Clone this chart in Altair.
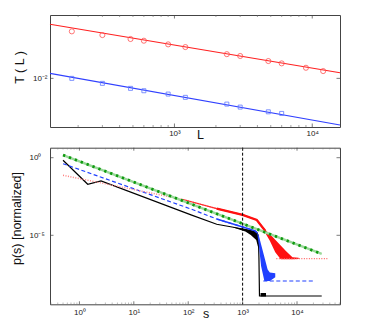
import altair as alt
import pandas as pd

# ---------------- top panel: T(L) ----------------
L_vals = [180, 300, 480, 600, 900, 1200, 2400, 3000, 4800, 6000, 9000, 12000]
T_red = [0.0320, 0.0292, 0.0265, 0.0254, 0.0232, 0.0217, 0.0182, 0.0174, 0.01535, 0.01449, 0.0130, 0.01198]
L_blue = [180, 300, 480, 600, 900, 1200, 2400, 3000, 4800, 6000]
T_blue = [0.0100, 0.00884, 0.00781, 0.00736, 0.00678, 0.00625, 0.00529, 0.00491, 0.00437, 0.00420]
fit_L = [125, 15900]
fit_red = [0.0381, 0.01148]
fit_blue = [0.01132, 0.00315]
top_xticks_major = [1000, 10000]
top_xticks_minor = [200, 300, 400, 500, 600, 700, 800, 900, 2000, 3000, 4000, 5000, 6000, 7000, 8000, 9000]
top_yticks = [0.01]

# ---------------- bottom panel: p(s) (log10 values) ----------------
green_lx = [-0.301, 4.454]
green_ly = [0.17, -6.20]

red_lx = [-0.301, 1.0, 1.886, 2.524, 3.0, 3.26, 3.418]
red_ly = [-1.134, -2.05, -2.68, -3.28, -3.68, -4.01, -4.72]
red_tail_lx = [3.62, 4.577]
red_tail_ly = [-6.50, -6.50]
red_band_lx = [3.40, 3.5, 3.6, 3.7, 3.8, 3.916, 4.03]
red_band_hi = [-4.61, -4.92, -5.29, -5.65, -6.02, -6.42, -6.45]
red_band_lo = [-4.75, -5.35, -6.10, -6.55, -6.55, -6.55, -6.52]

blue_lx = [-0.301, 2.064, 2.524, 3.137, 3.23, 3.27]
blue_ly = [-0.387, -3.325, -3.95, -4.61, -4.72, -4.85]
blue_tail_lx = [3.38, 4.33]
blue_tail_ly = [-7.94, -7.94]
blue_band_lx = [3.27, 3.30, 3.34, 3.40, 3.46, 3.50, 3.60]
blue_band_hi = [-4.80, -5.05, -5.60, -6.40, -7.20, -7.40, -7.45]
blue_band_lo = [-4.92, -5.70, -7.00, -7.94, -7.94, -7.94, -7.70]

black_lx = [-0.301, 0.153, 0.397, 2.064, 2.524, 2.83, 3.14, 3.26, 3.29, 3.30, 3.31, 4.454]
black_ly = [-0.167, -1.71, -1.50, -3.70, -4.29, -4.48, -4.70, -4.80, -5.10, -6.50, -8.91, -8.91]
black_band_lx = [2.83, 2.95, 3.05, 3.15, 3.25, 3.29]
black_band_hi = [-4.46, -4.54, -4.60, -4.68, -4.78, -4.95]
black_band_lo = [-4.50, -4.64, -4.76, -4.98, -5.30, -5.85]
black_foot_lx = [3.33, 3.43]
black_foot_hi = [-8.72, -8.72]
black_foot_lo = [-8.95, -8.95]

s_cut = [1000]
bot_xticks_major = [1, 10, 100, 1000, 10000]
bot_xticks_minor = [m * 10.0 ** e for e in range(-1, 5) for m in range(2, 10)]
bot_yticks = [1.0, 1e-5]

W = 290
H_TOP = 112
H_BOT = 156.6
FONT = "Liberation Sans"
LBL = 8


def df(xs, ys, y2=None, logv=False):
    if logv:
        xs = [10 ** v for v in xs]
        ys = [10 ** v for v in ys]
        if y2 is not None:
            y2 = [10 ** v for v in y2]
    d = {"x": xs, "y": ys}
    if y2 is not None:
        d["y2"] = y2
    return pd.DataFrame(d)


# ---------- top encodings ----------
XT = alt.X("x:Q", scale=alt.Scale(type="log", domain=[125, 15900]),
           axis=alt.Axis(values=top_xticks_major,
                         labelExpr="datum.value == 1000 ? '10³' : '10⁴'",
                         ticks=False, tickSize=0, domain=False, grid=False,
                         labelFontSize=LBL, labelPadding=2, labelColor="#222",
                         title="L", titleFontSize=12.5, titleFontWeight="normal",
                         titleColor="#111", titleX=150, titleY=11,
                         titleBaseline="alphabetic", titleAlign="center",
                         labelFont=FONT, titleFont=FONT))
YT = alt.Y("y:Q", scale=alt.Scale(type="log", domain=[0.003, 0.048]),
           axis=alt.Axis(values=top_yticks, labelExpr="'10⁻²'",
                         ticks=False, tickSize=0, domain=False, grid=False,
                         labelFontSize=LBL, labelPadding=3, labelColor="#222",
                         title="T ( L )", titleFontSize=12.5, titleFontWeight="normal",
                         titleColor="#111", titleX=-30.5, titleY=52, titleAngle=270,
                         titleBaseline="middle", titleAlign="center",
                         labelFont=FONT, titleFont=FONT))

top_layers = [
    alt.Chart(df(fit_L, fit_red)).mark_line(color="#ff2020", strokeWidth=1.1).encode(x=XT, y=YT),
    alt.Chart(df(fit_L, fit_blue)).mark_line(color="#3040ff", strokeWidth=1.1).encode(x=XT, y=YT),
    alt.Chart(df(L_vals, T_red)).mark_point(shape="circle", filled=False, size=26, strokeWidth=0.8,
                                            color="#ff5050", opacity=1).encode(x=XT, y=YT),
    alt.Chart(df(L_blue, T_blue)).mark_point(shape="square", filled=False, size=16, strokeWidth=0.8,
                                             color="#6078ff", opacity=1).encode(x=XT, y=YT),
    # inward ticks on bottom & top edges
    alt.Chart(pd.DataFrame({"x": top_xticks_major})).mark_rule(color="#444", strokeWidth=0.7).encode(
        x=XT, y=alt.value(H_TOP), y2=alt.value(H_TOP - 3.5)),
    alt.Chart(pd.DataFrame({"x": top_xticks_major})).mark_rule(color="#444", strokeWidth=0.7).encode(
        x=XT, y=alt.value(0), y2=alt.value(3.5)),
    alt.Chart(pd.DataFrame({"x": top_xticks_minor})).mark_rule(color="#666", strokeWidth=0.6).encode(
        x=XT, y=alt.value(H_TOP), y2=alt.value(H_TOP - 2)),
    alt.Chart(pd.DataFrame({"x": top_xticks_minor})).mark_rule(color="#666", strokeWidth=0.6).encode(
        x=XT, y=alt.value(0), y2=alt.value(2)),
    alt.Chart(pd.DataFrame({"y": top_yticks})).mark_rule(color="#444", strokeWidth=0.7).encode(
        y=YT, x=alt.value(0), x2=alt.value(3.5)),
    alt.Chart(pd.DataFrame({"y": top_yticks})).mark_rule(color="#444", strokeWidth=0.7).encode(
        y=YT, x=alt.value(W), x2=alt.value(W - 3.5)),
]
top = alt.layer(*top_layers).properties(width=W, height=H_TOP)

# ---------- bottom encodings ----------
bot_label = ("datum.value == 1 ? '10⁰' : datum.value == 10 ? '10¹' : datum.value == 100 ? '10²' : "
             "datum.value == 1000 ? '10³' : '10⁴'")
XB = alt.X("x:Q", scale=alt.Scale(type="log", domain=[0.288, 61660]),
           axis=alt.Axis(values=bot_xticks_major, labelExpr=bot_label,
                         ticks=False, tickSize=0, domain=False, grid=False,
                         labelFontSize=LBL, labelPadding=4, labelColor="#222",
                         title="s", titleFontSize=12.5, titleFontWeight="normal",
                         titleColor="#111", titleX=155.7, titleY=13.5,
                         titleBaseline="alphabetic", titleAlign="center",
                         labelFont=FONT, titleFont=FONT))
YB = alt.Y("y:Q", scale=alt.Scale(type="log", domain=[3.58e-10, 4.41]),
           axis=alt.Axis(values=bot_yticks, labelExpr="datum.value == 1 ? '10⁰' : '10⁻⁵'",
                         ticks=False, tickSize=0, domain=False, grid=False,
                         labelFontSize=LBL, labelPadding=21, labelAlign="left", labelColor="#222",
                         title="p(s) [normalized]", titleFontSize=12.5, titleFontWeight="normal",
                         titleColor="#111", titleX=-34, titleY=70.3, titleAngle=270,
                         titleBaseline="middle", titleAlign="center",
                         labelFont=FONT, titleFont=FONT))
Y2B = alt.Y2("y2:Q")


def line(xs, ys, **kw):
    return alt.Chart(df(xs, ys, logv=True)).mark_line(clip=True, **kw).encode(x=XB, y=YB)


def band(xs, hi, lo, color):
    return alt.Chart(df(xs, hi, lo, logv=True)).mark_area(color=color, opacity=1, clip=True).encode(
        x=XB, y=YB, y2=Y2B)


bot_layers = [
    # black
    band(black_band_lx, black_band_hi, black_band_lo, "#000000"),
    band(black_foot_lx, black_foot_hi, black_foot_lo, "#000000"),
    line(black_lx, black_ly, color="#000000", strokeWidth=1.2),
    # blue
    band(blue_band_lx, blue_band_hi, blue_band_lo, "#2040ff"),
    line(blue_lx, blue_ly, color="#2040ff", strokeWidth=1.2, strokeDash=[4, 2.5]),
    line(blue_lx[2:], blue_ly[2:], color="#2040ff", strokeWidth=1.4),
    line(blue_tail_lx, blue_tail_ly, color="#2040ff", strokeWidth=1.1, strokeDash=[4, 2.5]),
    # red
    band(red_band_lx, red_band_hi, red_band_lo, "#ff1010"),
    line(red_lx, red_ly, color="#ff8080", strokeWidth=1.4, strokeDash=[1, 1.5]),
    line(red_lx[2:], red_ly[2:], color="#ff2a2a", strokeWidth=1.2),
    line(red_lx[3:], red_ly[3:], color="#ff1010", strokeWidth=2.3),
    line(red_tail_lx, red_tail_ly, color="#ff6060", strokeWidth=1.2, strokeDash=[1, 1.5]),
    # green power law
    line(green_lx, green_ly, color="#9ad89a", strokeWidth=2.4),
    line(green_lx, green_ly, color="#109a10", strokeWidth=2.8, strokeDash=[2.3, 4.0]),
    # cutoff
    alt.Chart(pd.DataFrame({"x": s_cut})).mark_rule(color="#000000", strokeWidth=1, strokeDash=[3, 2]).encode(x=XB),
    # ticks
    alt.Chart(pd.DataFrame({"x": bot_xticks_major})).mark_rule(color="#444", strokeWidth=0.7).encode(
        x=XB, y=alt.value(H_BOT), y2=alt.value(H_BOT - 3)),
    alt.Chart(pd.DataFrame({"x": bot_xticks_major})).mark_rule(color="#444", strokeWidth=0.7).encode(
        x=XB, y=alt.value(0), y2=alt.value(3)),
    alt.Chart(pd.DataFrame({"x": bot_xticks_minor})).mark_rule(color="#777", strokeWidth=0.5, clip=True).encode(
        x=XB, y=alt.value(H_BOT), y2=alt.value(H_BOT - 1.8)),
    alt.Chart(pd.DataFrame({"x": bot_xticks_minor})).mark_rule(color="#777", strokeWidth=0.5, clip=True).encode(
        x=XB, y=alt.value(0), y2=alt.value(1.8)),
    alt.Chart(pd.DataFrame({"y": bot_yticks})).mark_rule(color="#444", strokeWidth=0.7).encode(
        y=YB, x=alt.value(0), x2=alt.value(3.5)),
    alt.Chart(pd.DataFrame({"y": bot_yticks})).mark_rule(color="#444", strokeWidth=0.7).encode(
        y=YB, x=alt.value(W), x2=alt.value(W - 3.5)),
]
bottom = alt.layer(*bot_layers).properties(width=W, height=H_BOT)

chart = alt.vconcat(top, bottom, spacing=20.7, bounds="flush").properties(
    padding={"left": 1, "top": 6, "right": 4, "bottom": 2},
    background="white",
).configure_view(stroke="#444", strokeWidth=1)

chart.save("out.html", embed_options={"renderer": "svg", "actions": False})
